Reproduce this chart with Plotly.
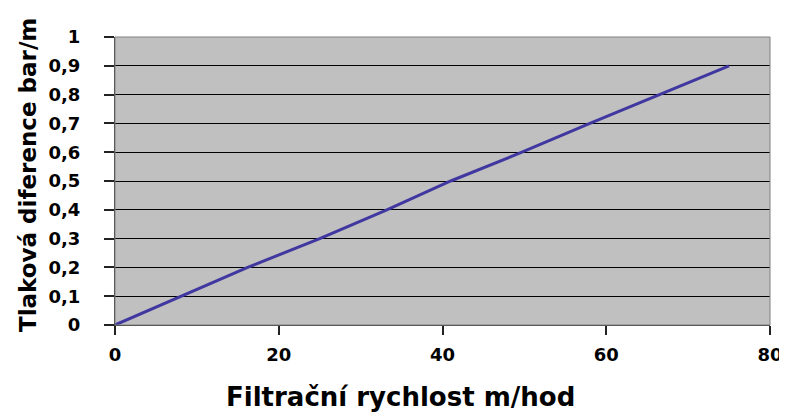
import plotly.graph_objects as go

speed = [0, 8.2, 16.2, 25, 33.2, 41, 49.7, 58, 66.6, 75]
pressure = [0, 0.1, 0.2, 0.3, 0.4, 0.5, 0.6, 0.7, 0.8, 0.9]
y_ticks = [0, 0.1, 0.2, 0.3, 0.4, 0.5, 0.6, 0.7, 0.8, 0.9, 1]
x_ticks = [0, 20, 40, 60, 80]
x_title = "Filtrační rychlost m/hod"
y_title = "Tlaková diference bar/m"

# the page has an 8px body margin; figure coordinates = page coordinates - 8
OFF = 8
W, H = 787, 419
L, T = 115 - OFF, 37 - OFF
R = W - (770 - OFF)
B = H - (325 - OFF)
pw, ph = W - L - R, H - T - B

fig = go.Figure()
fig.add_trace(go.Scatter(x=speed, y=pressure, mode="lines",
                         line=dict(color="#4038a0", width=3), showlegend=False))

tickfont = dict(family="DejaVu Sans", size=18, color="black", weight="bold")
fig.update_layout(
    width=W, height=H,
    margin=dict(l=L, r=R, t=T, b=B),
    paper_bgcolor="white", plot_bgcolor="#c0c0c0",
    separators=",.",
    xaxis=dict(range=[0, 80], tickvals=x_ticks, ticks="outside", ticklen=9,
               tickwidth=1.5, tickcolor="#222", showgrid=False, zeroline=False,
               automargin=False, showline=True, linecolor="#333",
               tickfont=tickfont, ticklabelstandoff=4),
    yaxis=dict(range=[0, 1], tickvals=y_ticks, ticks="outside", ticklen=10,
               tickwidth=1.5, tickcolor="#222", showgrid=True, gridcolor="black",
               gridwidth=1, zeroline=False, showline=True, linecolor="#333",
               automargin=False, tickfont=tickfont, ticklabelstandoff=20),
    annotations=[
        dict(text=x_title, xref="paper", yref="paper", x=(400 - OFF - L) / pw,
             y=-(397 - OFF - (H - B)) / ph, xanchor="center", yanchor="middle",
             showarrow=False,
             font=dict(family="DejaVu Sans", size=26, color="black", weight="bold")),
        dict(text=y_title, xref="paper", yref="paper", x=(28 - OFF - L) / pw,
             y=((H - B) - (175 - OFF)) / ph, xanchor="center", yanchor="middle",
             textangle=-90, showarrow=False,
             font=dict(family="DejaVu Sans", size=23, color="black", weight="bold")),
    ],
)
fig.add_shape(type="rect", xref="paper", yref="paper", x0=0, y0=0, x1=1, y1=1,
              line=dict(color="#808080", width=1))
fig.write_html("out.html")
